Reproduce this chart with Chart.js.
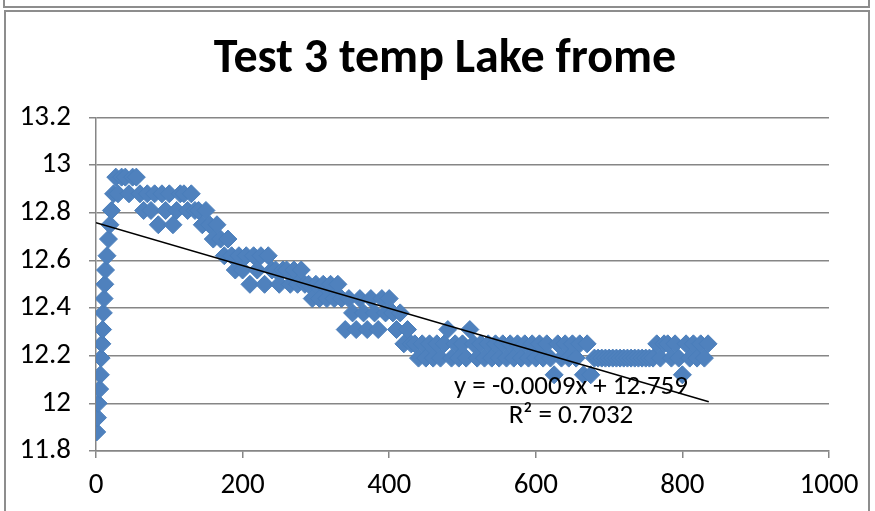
<!DOCTYPE html>
<html>
<head>
<meta charset="utf-8">
<script src="https://cdn.jsdelivr.net/npm/chart.js@4.4.0/dist/chart.umd.min.js"></script>
<style>
  body { margin: 0; background: #fff; width: 875px; height: 511px; overflow: hidden; position: relative; }
  #js--chart { position: absolute; left: 0; top: 0; }
  .frame { position: absolute; box-sizing: border-box; border: 2px solid #8d8d8d; pointer-events: none; }
  #prev { left: 3px; top: -20px; width: 867px; height: 28px; }
  #box { left: 4px; top: 10px; width: 866px; height: 530px; }
</style>
</head>
<body>
<canvas id="js--chart" width="875" height="511"></canvas>
<div class="frame" id="prev"></div>
<div class="frame" id="box"></div>
<script>
/* Test 3 temp Lake frome - scatter met trendlijn */

const titleText = "Test 3 temp Lake frome";

// tijd (x) en temperatuur (y)
const timeX = [1, 2, 3, 5, 6, 7, 8, 9, 10, 11, 12, 13, 15, 17, 19, 21, 24,
    27, 30, 35, 40, 45, 50, 55, 60, 65, 70, 75, 80, 85, 90, 95, 100,
    105, 110, 115, 120, 125, 130, 135, 140, 145, 150, 155, 160, 165, 170, 175, 180,
    185, 190, 195, 200, 205, 210, 215, 220, 225, 230, 235, 240, 245, 250, 255, 260,
    265, 270, 275, 280, 285, 290, 295, 300, 305, 310, 315, 320, 325, 330, 335, 340,
    345, 350, 355, 360, 365, 370, 375, 380, 385, 390, 395, 400, 405, 410, 415, 420,
    425, 430, 435, 440, 445, 450, 455, 460, 465, 470, 475, 480, 485, 490, 495, 500,
    505, 510, 515, 520, 525, 530, 535, 540, 545, 550, 555, 560, 565, 570, 575, 580,
    585, 590, 595, 600, 605, 610, 615, 620, 625, 630, 635, 640, 645, 650, 655, 660,
    665, 670, 675, 680, 685, 690, 695, 700, 705, 710, 715, 720, 725, 730, 735, 740,
    745, 750, 755, 760, 765, 770, 775, 780, 785, 790, 795, 800, 805, 810, 815, 820,
    825, 830, 835];

const tempC = [11.88, 11.94, 12.00, 12.06, 12.12, 12.19, 12.25, 12.31, 12.38, 12.44, 12.50, 12.56, 12.62, 12.69, 12.75, 12.81, 12.88,
    12.95, 12.88, 12.95, 12.95, 12.88, 12.95, 12.95, 12.88, 12.81, 12.88, 12.81, 12.88, 12.75, 12.88, 12.81, 12.88,
    12.75, 12.81, 12.88, 12.88, 12.81, 12.88, 12.81, 12.81, 12.75, 12.81, 12.75, 12.69, 12.75, 12.69, 12.62, 12.69,
    12.62, 12.56, 12.62, 12.56, 12.62, 12.50, 12.62, 12.56, 12.62, 12.50, 12.62, 12.56, 12.56, 12.50, 12.56, 12.56,
    12.50, 12.56, 12.50, 12.56, 12.50, 12.50, 12.44, 12.50, 12.44, 12.50, 12.44, 12.50, 12.44, 12.50, 12.44, 12.31,
    12.44, 12.38, 12.31, 12.44, 12.38, 12.31, 12.44, 12.38, 12.31, 12.44, 12.38, 12.44, 12.38, 12.31, 12.38, 12.25,
    12.31, 12.25, 12.25, 12.19, 12.25, 12.19, 12.25, 12.19, 12.25, 12.19, 12.25, 12.31, 12.19, 12.25, 12.19, 12.25,
    12.19, 12.31, 12.25, 12.19, 12.25, 12.19, 12.25, 12.19, 12.25, 12.19, 12.25, 12.19, 12.25, 12.19, 12.25, 12.19,
    12.25, 12.19, 12.25, 12.19, 12.25, 12.19, 12.25, 12.19, 12.12, 12.25, 12.19, 12.25, 12.19, 12.25, 12.19, 12.25,
    12.12, 12.25, 12.12, 12.19, 12.19, 12.19, 12.19, 12.19, 12.19, 12.19, 12.19, 12.19, 12.19, 12.19, 12.19, 12.19,
    12.19, 12.19, 12.19, 12.19, 12.25, 12.19, 12.25, 12.25, 12.19, 12.25, 12.19, 12.12, 12.25, 12.19, 12.25, 12.19,
    12.25, 12.19, 12.25];

// trendlijn zoals Excel hem geeft
const trendSlope = -0.0009;
const trendIntercept = 12.759;
const trendR2 = 0.7032;
const trendStart = 0;
const trendEnd = 836;

const fontFam = "Calibri, Carlito, Lato, sans-serif";

let points = [];
for (let i = 0; i < timeX.length; i++) {
    points.push({ x: timeX[i], y: tempC[i] });
}

const trendPoints = [
    { x: trendStart, y: trendIntercept + trendSlope * trendStart },
    { x: trendEnd, y: trendIntercept + trendSlope * trendEnd }
];

// tekst van de trendlijn, op data coordinaten
const trendLabel = {
    id: "trendLabel",
    afterDatasetsDraw: function (chart) {
        const ctx = chart.ctx;
        const xs = chart.scales.x;
        const ys = chart.scales.y;
        ctx.save();
        ctx.fillStyle = "#000";
        ctx.font = "27px " + fontFam;
        ctx.textAlign = "center";
        ctx.textBaseline = "middle";
        ctx.fillText("y = -0.0009x + 12.759", xs.getPixelForValue(648), ys.getPixelForValue(12.067));
        ctx.fillText("R² = " + trendR2, xs.getPixelForValue(648), ys.getPixelForValue(11.946));
        ctx.restore();
    }
};

const gridGrey = "#868686";

new Chart(document.getElementById("js--chart"), {
    type: "scatter",
    data: {
        datasets: [
            {
                type: "line",
                data: trendPoints,
                borderColor: "#000",
                borderWidth: 1.5,
                pointRadius: 0,
                order: 0
            },
            {
                data: points,
                pointStyle: "rectRot",
                pointRadius: 9,
                backgroundColor: "#4F81BD",
                borderColor: "#4A7EBB",
                borderWidth: 1,
                order: 1
            }
        ]
    },
    options: {
        responsive: false,
        animation: false,
        devicePixelRatio: 1,
        layout: { padding: { top: 10, right: 0, left: 15, bottom: 0 } },
        plugins: {
            legend: { display: false },
            tooltip: { enabled: false },
            title: {
                display: true,
                text: titleText,
                color: "#000",
                font: { family: fontFam, size: 48, weight: "bold" },
                padding: { top: 21, bottom: 29 }
            }
        },
        scales: {
            x: {
                type: "linear",
                min: 0,
                max: 1000,
                ticks: {
                    stepSize: 200,
                    color: "#000",
                    font: { family: fontFam, size: 29 },
                    padding: 10,
                    callback: function (v) { return String(v); }
                },
                grid: { drawOnChartArea: false, drawTicks: true, tickLength: 7, color: gridGrey, lineWidth: 1.5 },
                border: { color: gridGrey, width: 1.5 },
                afterFit: function (scale) { scale.height = 60; }
            },
            y: {
                min: 11.8,
                max: 13.2,
                ticks: {
                    stepSize: 0.2,
                    color: "#000",
                    font: { family: fontFam, size: 29 },
                    padding: 18,
                    callback: function (v) { return String(Number(v.toFixed(1))); }
                },
                grid: { color: gridGrey, lineWidth: 1.5, tickLength: 7 },
                border: { color: gridGrey, width: 1.5 },
                afterFit: function (scale) { scale.width = 81; }
            },
            // lege as rechts, alleen voor de ruimte naast het plotvlak
            yRight: {
                position: "right",
                min: 11.8,
                max: 13.2,
                ticks: { display: false },
                grid: { display: false },
                border: { display: false },
                afterFit: function (scale) { scale.width = 46; }
            }
        }
    },
    plugins: [trendLabel]
});
</script>
</body>
</html>
